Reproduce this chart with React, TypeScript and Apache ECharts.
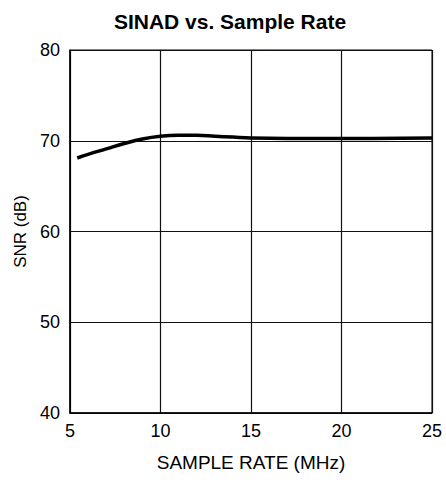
import React, { useEffect, useRef } from "react";
import * as echarts from "echarts";

const sampleRate = [5.4, 6, 7, 8, 9, 10, 11, 12, 13, 14, 15, 17, 20, 25];
const snr = [68.1, 68.5, 69.1, 69.7, 70.2, 70.5, 70.6, 70.6, 70.5, 70.4, 70.3, 70.25, 70.25, 70.3];
const xTicks = { min: 5, max: 25, interval: 5 };
const yTicks = { min: 40, max: 80, interval: 10 };

const FONT = "'Liberation Sans', Arial, Helvetica, sans-serif";

export default function App() {
  const ref = useRef<HTMLDivElement>(null);
  useEffect(() => {
    if (!ref.current) return;
    const chart = echarts.init(ref.current, undefined, { renderer: "svg" });
    chart.setOption({
      animation: false,
      backgroundColor: "#ffffff",
      title: {
        text: "SINAD vs. Sample Rate",
        left: 225,
        textAlign: "center",
        top: 6,
        textStyle: { fontFamily: FONT, fontSize: 21, fontWeight: "bold", color: "#000" },
      },
      grid: {
        left: 70,
        right: 14,
        top: 50,
        bottom: 67,
        show: true,
        borderColor: "#000",
        borderWidth: 1,
      },
      xAxis: {
        type: "value",
        min: xTicks.min,
        max: xTicks.max,
        interval: xTicks.interval,
        name: "SAMPLE RATE (MHz)",
        nameLocation: "middle",
        nameGap: 40,
        nameTextStyle: { fontFamily: FONT, fontSize: 19, color: "#000" },
        axisLine: { lineStyle: { color: "#000", width: 1.5 } },
        axisTick: { show: false },
        axisLabel: { fontFamily: FONT, fontSize: 18, color: "#000", margin: 9 },
        splitLine: { show: true, lineStyle: { color: "#111", width: 1.2 } },
      },
      yAxis: {
        type: "value",
        min: yTicks.min,
        max: yTicks.max,
        interval: yTicks.interval,
        name: "SNR (dB)",
        nameLocation: "middle",
        nameGap: 37,
        nameTextStyle: { fontFamily: FONT, fontSize: 17, color: "#000" },
        axisLine: { show: true, lineStyle: { color: "#000", width: 1.5 } },
        axisTick: { show: false },
        axisLabel: { fontFamily: FONT, fontSize: 18, color: "#000", margin: 10 },
        splitLine: { show: true, lineStyle: { color: "#111", width: 1.2 } },
      },
      series: [
        {
          type: "line",
          data: sampleRate.map((x, i) => [x, snr[i]]),
          smooth: 0.4,
          showSymbol: false,
          lineStyle: { color: "#000", width: 3.5 },
        },
      ],
    });
    return () => chart.dispose();
  }, []);
  return (
    <div
      ref={ref}
      style={{ position: "absolute", left: 0, top: 0, width: 446, height: 480 }}
    />
  );
}
